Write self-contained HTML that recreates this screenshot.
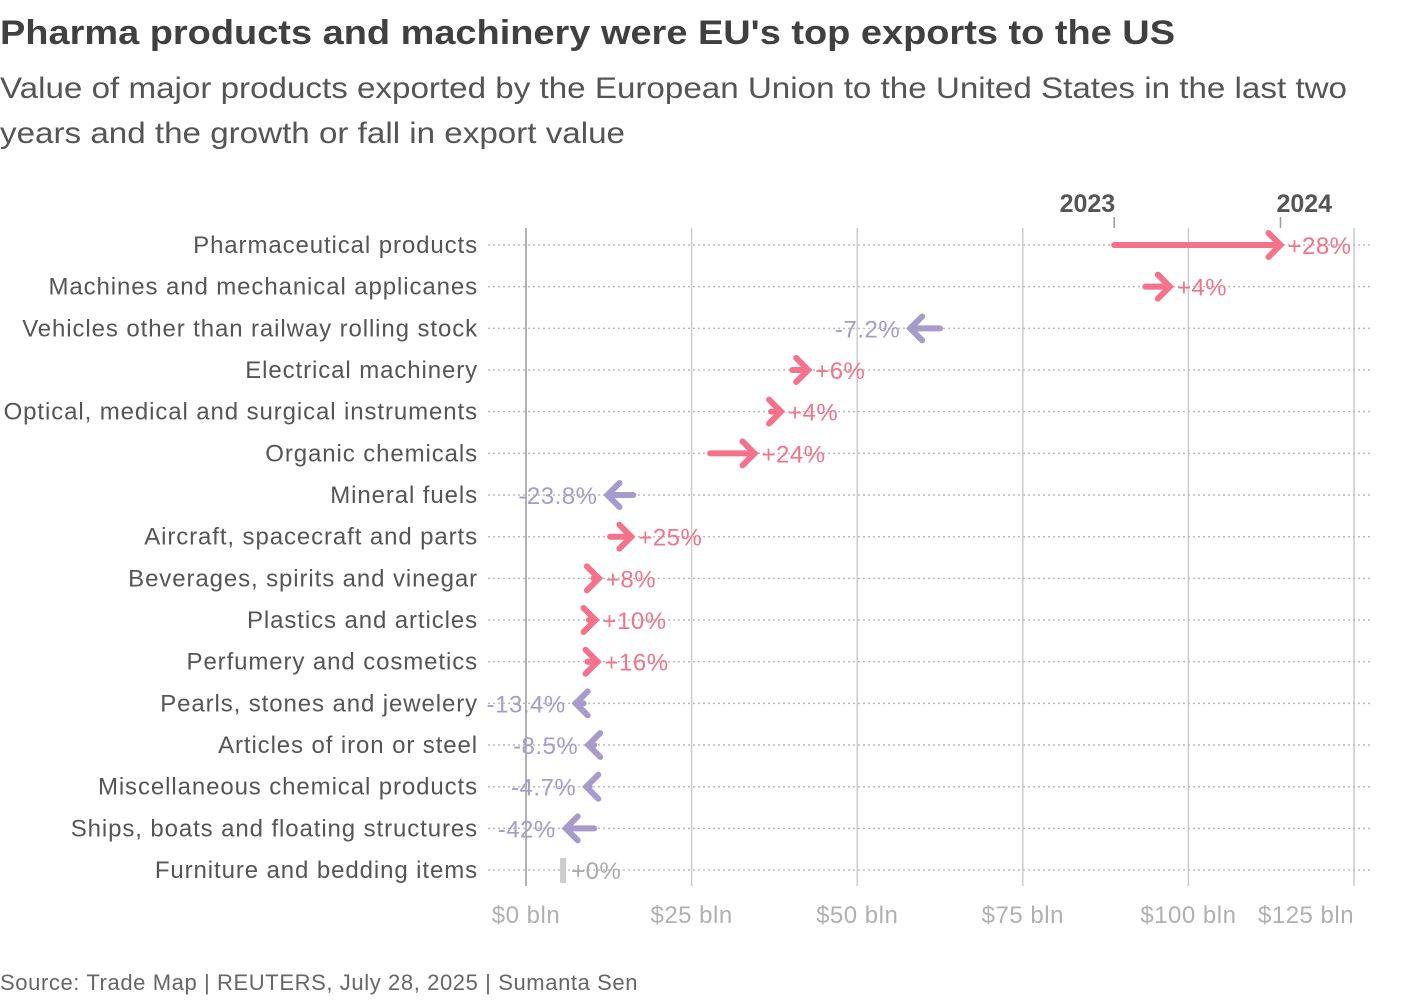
<!DOCTYPE html>
<html><head><meta charset="utf-8"><style>
body{margin:0;background:#fff;font-family:"Liberation Sans",sans-serif;}
svg text{font-family:"Liberation Sans",sans-serif;}
</style></head><body>
<svg id="chart" width="1420" height="998" xmlns="http://www.w3.org/2000/svg">
<text x="0" y="44" font-size="34" font-weight="bold" fill="#404040" textLength="1175" lengthAdjust="spacingAndGlyphs">Pharma products and machinery were EU's top exports to the US</text>
<text x="0" y="98" font-size="30" fill="#555" textLength="1347" lengthAdjust="spacingAndGlyphs">Value of major products exported by the European Union to the United States in the last two</text>
<text x="0" y="143" font-size="30" fill="#555" textLength="625" lengthAdjust="spacingAndGlyphs">years and the growth or fall in export value</text>
<text x="0" y="990" font-size="22" fill="#666" letter-spacing="0.6">Source: Trade Map | REUTERS, July 28, 2025 | Sumanta Sen</text>
<g id="grid"></g><g id="rows"></g><g id="marks"></g>
</svg>
<script>
const categories=["Pharmaceutical products","Machines and mechanical applicanes","Vehicles other than railway rolling stock","Electrical machinery","Optical, medical and surgical instruments","Organic chemicals","Mineral fuels","Aircraft, spacecraft and parts","Beverages, spirits and vinegar","Plastics and articles","Perfumery and cosmetics","Pearls, stones and jewelery","Articles of iron or steel","Miscellaneous chemical products","Ships, boats and floating structures","Furniture and bedding items"];
const values2023=[88.8,93.5,62.5,40.2,37.0,27.8,16.2,12.7,10.2,9.5,9.3,8.7,10.3,9.6,10.3,5.6];
const values2024=[113.9,97.2,58.0,42.6,38.5,34.5,12.3,15.9,11.0,10.5,10.8,7.5,9.4,9.1,6.0,5.6];
const changeLabels=["+28%","+4%","-7.2%","+6%","+4%","+24%","-23.8%","+25%","+8%","+10%","+16%","-13.4%","-8.5%","-4.7%","-42%","+0%"];
const ticks=[0,25,50,75,100,125];
const tickLabels=["$0 bln","$25 bln","$50 bln","$75 bln","$100 bln","$125 bln"];
const NS="http://www.w3.org/2000/svg";
const x=v=>526+v*(1354-526)/125;
const y=i=>245+i*41.67;
function mk(tag,attrs,parent,txt){const e=document.createElementNS(NS,tag);for(const k in attrs)e.setAttribute(k,attrs[k]);if(txt!==undefined)e.textContent=txt;parent.appendChild(e);return e;}
const grid=document.getElementById('grid'),rows=document.getElementById('rows'),marks=document.getElementById('marks');
ticks.forEach((t,i)=>{
  const l=mk('line',{x1:x(t),x2:x(t),y1:228,y2:886,stroke:i===0?'#999':'#ccc','stroke-width':1.5},grid);
  
  
  const tx=mk('text',{x:x(t),y:923,'font-size':24,fill:'#b0b0b0','text-anchor':i===5?'start':'middle','letter-spacing':0.5},grid,tickLabels[i]);
  if(i===5)tx.setAttribute('x',x(t)-96);
  
  
});
categories.forEach((c,i)=>{
  const yy=y(i);
  const l=mk('line',{x1:488,x2:1370,y1:yy,y2:yy,stroke:'#bbb','stroke-width':1.5,'stroke-dasharray':'2,3'},rows);
  
  
  const t=mk('text',{x:478,y:yy+8,'font-size':24,fill:'#555','text-anchor':'end','letter-spacing':0.9},rows,c);
  
  
  const a=values2023[i],b=values2024[i];
  const x0=x(a),x1=x(b);
  const d=b-a;
  if(Math.abs(x1-x0)<2){
    const r=mk('rect',{x:x1-3,y:yy-12,width:6,height:25,fill:'#ccc'},marks);
    
    
    const lt=mk('text',{x:x1+8,y:yy+9,'font-size':24,fill:'#aaa','letter-spacing':0.5},marks,changeLabels[i]);
    
    
    return;
  }
  const col=d>0?'#f4728a':'#a69bcb';
  const s=d>0?1:-1;
  const g=mk('g',{},marks);
  
  
  mk('line',{x1:x0,x2:x1-s*3,y1:yy,y2:yy,stroke:col,'stroke-width':6,'stroke-linecap':'round'},g);
  mk('path',{d:`M${x1-s*12},${yy-12} L${x1},${yy} L${x1-s*12},${yy+12}`,stroke:col,'stroke-width':6,fill:'none','stroke-linecap':'round','stroke-linejoin':'miter'},g);
  const lt=mk('text',{x:d>0?x1+7:x1-10,y:yy+9,'font-size':24,fill:col,'text-anchor':d>0?'start':'end','letter-spacing':0.5},marks,changeLabels[i]);
  
  
});
[[values2023[0],'2023'],[values2024[0],'2024']].forEach(([v,lab])=>{
  const t=mk('text',{x:x(v)-4,y:212,'font-size':25,'font-weight':'bold',fill:'#555','text-anchor':lab==='2023'?'end':'start'},marks,lab);
  if(lab==='2023')t.setAttribute('x',x(v)+1);
  else t.setAttribute('x',x(v)-4);
  
  
  const l=mk('line',{x1:x(v),x2:x(v),y1:217,y2:228,stroke:'#999','stroke-width':1.5},marks);
  
  
});
</script>
</body></html>
